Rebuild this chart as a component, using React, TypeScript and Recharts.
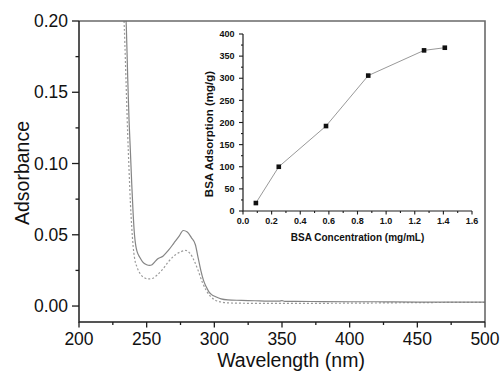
import React from 'react';
import { LineChart, Line, XAxis, YAxis } from 'recharts';

// Main spectrum: solid curve (first point is where it leaves the top of the frame)
const wavelengthSolid = [234.8, 235, 236, 237, 238, 239, 240, 241, 242, 243, 245, 247, 250, 252, 254, 256, 258, 262, 266, 270, 274, 277, 280, 283, 286, 288, 290, 292, 294, 296, 298, 301, 305, 310, 320, 330, 340, 348, 350, 352, 360, 380, 400, 420, 450, 480, 500];
const absorbanceSolid = [0.2, 0.195, 0.16, 0.13, 0.108, 0.085, 0.065, 0.05, 0.042, 0.038, 0.034, 0.031, 0.029, 0.0285, 0.029, 0.031, 0.033, 0.035, 0.039, 0.044, 0.049, 0.053, 0.052, 0.048, 0.043, 0.034, 0.025, 0.018, 0.0135, 0.010, 0.008, 0.0065, 0.005, 0.0043, 0.0040, 0.0037, 0.0034, 0.0035, 0.0038, 0.0033, 0.0033, 0.0031, 0.003, 0.003, 0.0028, 0.0027, 0.0027];

// Main spectrum: dashed curve
const wavelengthDashed = [233.3, 233.5, 235, 236, 237, 238, 239, 240, 241, 243, 245, 248, 251, 254, 258, 262, 266, 270, 275, 279, 282, 285, 288, 291, 294, 297, 300, 305, 310, 330, 360, 400, 450, 500];
const absorbanceDashed = [0.2, 0.195, 0.15, 0.12, 0.095, 0.072, 0.055, 0.042, 0.034, 0.027, 0.023, 0.020, 0.019, 0.0193, 0.022, 0.026, 0.031, 0.035, 0.038, 0.039, 0.037, 0.032, 0.025, 0.017, 0.011, 0.007, 0.0045, 0.0028, 0.0022, 0.0019, 0.0019, 0.002, 0.0024, 0.0026];

// Inset: BSA adsorption isotherm
const bsaConcentration = [0.09, 0.25, 0.58, 0.875, 1.265, 1.41];
const bsaAdsorption = [18, 100, 192, 306, 363, 369];

// Tick values
const mainXMajor = [200, 250, 300, 350, 400, 450, 500];
const mainXMinor = [225, 275, 325, 375, 425, 475];
const mainYMajor = [0, 0.05, 0.1, 0.15, 0.2];
const mainYMinor = [0.025, 0.075, 0.125, 0.175];
const insetXMajor = [0, 0.2, 0.4, 0.6, 0.8, 1.0, 1.2, 1.4, 1.6];
const insetXMinor = [0.1, 0.3, 0.5, 0.7, 0.9, 1.1, 1.3, 1.5];
const insetYMajor = [0, 50, 100, 150, 200, 250, 300, 350, 400];
const insetYMinor = [25, 75, 125, 175, 225, 275, 325, 375];

// Axis titles
const mainXTitle = 'Wavelength (nm)';
const mainYTitle = 'Adsorbance';
const insetXTitle = 'BSA Concentration (mg/mL)';
const insetYTitle = 'BSA Adsorption (mg/g)';

const MAIN_X_DOMAIN: [number, number] = [200, 500];
const MAIN_Y_DOMAIN: [number, number] = [-0.0112, 0.2];
const INSET_X_DOMAIN: [number, number] = [0, 1.6];
const INSET_Y_DOMAIN: [number, number] = [0, 400];

const solidData = wavelengthSolid.map((x, i) => ({ x, y: absorbanceSolid[i] }));
const dashedData = wavelengthDashed.map((x, i) => ({ x, y: absorbanceDashed[i] }));
const insetData = bsaConcentration.map((x, i) => ({ x, y: bsaAdsorption[i] }));

// axis / frame polylines in data space (built from the domains)
const [mx0, mx1] = MAIN_X_DOMAIN;
const [my0, my1] = MAIN_Y_DOMAIN;
const mainAxisPath = [{ x: mx0, y: my1 }, { x: mx0, y: my0 }, { x: mx1, y: my0 }];
const mainFramePath = [{ x: mx0, y: my1 }, { x: mx1, y: my1 }, { x: mx1, y: my0 }];
const [ix0, ix1] = INSET_X_DOMAIN;
const [iy0, iy1] = INSET_Y_DOMAIN;
const insetAxisPath = [{ x: ix0, y: iy1 }, { x: ix0, y: iy0 }, { x: ix1, y: iy0 }];

// tick anchor points on the axes
const mainXTickPts = [...mainXMajor, ...mainXMinor].map((v) => ({ x: v, y: my0, major: mainXMajor.includes(v) }));
const mainYTickPts = [...mainYMajor, ...mainYMinor].map((v) => ({ x: mx0, y: v, major: mainYMajor.includes(v) }));
const insetXTickPts = [...insetXMajor, ...insetXMinor].map((v) => ({ x: v, y: iy0, major: insetXMajor.includes(v) }));
const insetYTickPts = [...insetYMajor, ...insetYMinor].map((v) => ({ x: ix0, y: v, major: insetYMajor.includes(v) }));

const FONT = 'Liberation Sans, Arial, sans-serif';
const AXIS = '#1e1e1e';
const FRAME = '#6a6a6a';

const isIn = (arr: number[], v: number) => arr.some((a) => Math.abs(a - v) < 1e-9);
const sorted = (a: number[], b: number[]) => [...a, ...b].sort((p, q) => p - q);

const mainXTick = (props: any) => {
  const { x, y, payload } = props;
  if (!isIn(mainXMajor, payload.value)) return <g />;
  return (
    <text x={x} y={y + 16} textAnchor="middle" fontSize={17.5} fontFamily={FONT} fill="#111">
      {payload.value}
    </text>
  );
};

const mainYTick = (props: any) => {
  const { x, y, payload } = props;
  if (!isIn(mainYMajor, payload.value)) return <g />;
  return (
    <text x={x} y={y} dy="0.35em" textAnchor="end" fontSize={17.5} fontFamily={FONT} fill="#111">
      {payload.value.toFixed(2)}
    </text>
  );
};

const insetXTick = (props: any) => {
  const { x, y, payload } = props;
  if (!isIn(insetXMajor, payload.value)) return <g />;
  return (
    <text x={x} y={y + 7.5} textAnchor="middle" fontSize={9} fontWeight="bold" fontFamily={FONT} fill="#111">
      {payload.value.toFixed(1)}
    </text>
  );
};

const insetYTick = (props: any) => {
  const { x, y, payload } = props;
  if (!isIn(insetYMajor, payload.value)) return <g />;
  return (
    <text x={x} y={y} dy="0.35em" textAnchor="end" fontSize={9} fontWeight="bold" fontFamily={FONT} fill="#111">
      {payload.value}
    </text>
  );
};

// tick marks drawn as dots of invisible series
const downTick = (maj: number, min: number, w: number) => (props: any) => {
  const { cx, cy, index, payload } = props;
  const len = payload && payload.major ? maj : min;
  return <rect key={`dt-${index}`} x={cx - w / 2} y={cy} width={w} height={len} fill={AXIS} />;
};
const leftTick = (maj: number, min: number, w: number) => (props: any) => {
  const { cx, cy, index, payload } = props;
  const len = payload && payload.major ? maj : min;
  return <rect key={`lt-${index}`} x={cx - len} y={cy - w / 2} width={len} height={w} fill={AXIS} />;
};

const squareDot = (props: any) => {
  const { cx, cy, index } = props;
  return <rect key={`sq-${index}`} x={cx - 2.3} y={cy - 2.3} width={4.6} height={4.6} fill="#111" />;
};

const titleStyle = (size: number, bold: boolean): React.CSSProperties => ({
  position: 'absolute',
  fontFamily: FONT,
  fontSize: size,
  fontWeight: bold ? 'bold' : 'normal',
  lineHeight: `${size}px`,
  color: '#111',
  textAlign: 'center',
  whiteSpace: 'nowrap',
});

const tickSeries = (key: string, data: any[], shape: any) => (
  <Line
    key={key}
    data={data}
    dataKey="y"
    type="linear"
    stroke="none"
    strokeWidth={0}
    dot={shape}
    activeDot={false}
    isAnimationActive={false}
    legendType="none"
  />
);

export default function App() {
  return (
    <div style={{ position: 'absolute', left: 0, top: 0, width: 500, height: 372 }}>
      <div style={{ position: 'absolute', left: 0, top: 0 }}>
        <LineChart width={500} height={372} margin={{ top: 21, right: 15, bottom: 0, left: 0 }}>
          <XAxis
            type="number"
            dataKey="x"
            domain={MAIN_X_DOMAIN}
            ticks={sorted(mainXMajor, mainXMinor)}
            interval={0}
            height={50}
            tickSize={5}
            tickMargin={2}
            tickLine={false}
            axisLine={false}
            tick={mainXTick}
          />
          <YAxis
            type="number"
            dataKey="y"
            domain={MAIN_Y_DOMAIN}
            ticks={sorted(mainYMajor, mainYMinor)}
            interval={0}
            width={79}
            tickSize={7}
            tickMargin={4}
            tickLine={false}
            axisLine={false}
            tick={mainYTick}
          />
          <Line
            data={dashedData}
            dataKey="y"
            type="monotone"
            stroke="#9a9a9a"
            strokeWidth={1.2}
            strokeDasharray="2 2"
            dot={false}
            activeDot={false}
            isAnimationActive={false}
          />
          <Line
            data={solidData}
            dataKey="y"
            type="monotone"
            stroke="#858585"
            strokeWidth={1.2}
            dot={false}
            activeDot={false}
            isAnimationActive={false}
          />
          <Line data={mainFramePath} dataKey="y" type="linear" stroke={FRAME} strokeWidth={1.6} dot={false} activeDot={false} isAnimationActive={false} />
          <Line data={mainAxisPath} dataKey="y" type="linear" stroke={AXIS} strokeWidth={1.5} dot={false} activeDot={false} isAnimationActive={false} />
          {tickSeries('mxt', mainXTickPts, downTick(5.5, 3, 1.3))}
          {tickSeries('myt', mainYTickPts, leftTick(7, 3.5, 1.3))}
        </LineChart>
      </div>
      <div style={{ position: 'absolute', left: 180, top: 14 }}>
        <LineChart width={300} height={240} margin={{ top: 20, right: 8, bottom: 0, left: 0 }}>
          <XAxis
            type="number"
            dataKey="x"
            domain={INSET_X_DOMAIN}
            ticks={sorted(insetXMajor, insetXMinor)}
            interval={0}
            height={43}
            tickSize={3.5}
            tickMargin={2}
            tickLine={false}
            axisLine={false}
            tick={insetXTick}
          />
          <YAxis
            type="number"
            dataKey="y"
            domain={INSET_Y_DOMAIN}
            ticks={sorted(insetYMajor, insetYMinor)}
            interval={0}
            width={63}
            tickSize={4}
            tickMargin={4.5}
            tickLine={false}
            axisLine={false}
            tick={insetYTick}
          />
          <Line data={insetAxisPath} dataKey="y" type="linear" stroke={AXIS} strokeWidth={1.2} dot={false} activeDot={false} isAnimationActive={false} />
          {tickSeries('ixt', insetXTickPts, downTick(3.5, 2, 1.1))}
          {tickSeries('iyt', insetYTickPts, leftTick(4, 2, 1.1))}
          <Line
            data={insetData}
            dataKey="y"
            type="linear"
            stroke="#999"
            strokeWidth={1}
            dot={squareDot}
            activeDot={false}
            isAnimationActive={false}
          />
        </LineChart>
      </div>
      <div style={{ ...titleStyle(19.5, false), left: 191, top: 350.5, width: 200 }}>{mainXTitle}</div>
      <div style={{ ...titleStyle(19.5, false), left: 22 - 70, top: 173 - 10, width: 140, height: 20, lineHeight: '20px', transform: 'rotate(-90deg)' }}>
        {mainYTitle}
      </div>
      <div style={{ ...titleStyle(10, true), left: 357.5 - 80, top: 233, width: 160 }}>{insetXTitle}</div>
      <div style={{ ...titleStyle(11.5, true), left: 209 - 80, top: 134 - 7, width: 160, height: 14, lineHeight: '14px', transform: 'rotate(-90deg)' }}>
        {insetYTitle}
      </div>
    </div>
  );
}
